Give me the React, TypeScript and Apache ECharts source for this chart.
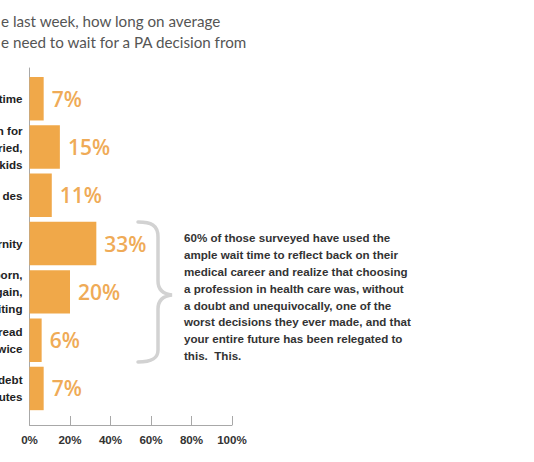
import React, { useEffect, useRef } from "react";
import * as echarts from "echarts";

const categories = ["time", "n for\nried,\nkids", "des", "rnity", "born,\ngain,\niting", "read\nwice", "debt\nutes"];
const values = [7, 15, 11, 33, 20, 6, 7];
const titleLines = ["e last week, how long on average", "e need to wait for a PA decision from"];
const noteLines = [
  "60% of those surveyed have used the",
  "ample wait time to reflect back on their",
  "medical career and realize that choosing",
  "a profession in health care was, without",
  "a doubt and unequivocally, one of the",
  "worst decisions they ever made, and that",
  "your entire future has been relegated to",
  "this.  This.",
];

const BRACE_D =
  "M138,222 C151,222 158,225 158,237 L158,281 C158,290 163,294 172,295 C163,296 158,300 158,309 L158,350 C158,359 151,362 138,362";

let registered = false;

function fitSize(text: string, family: string, weight: string, target: number): number {
  const base = 20;
  const t = new (echarts.graphic as any).Text({ style: { text, font: `${weight} ${base}px ${family}` } });
  const w = t.getBoundingRect().width;
  return w > 0 ? (base * target) / w : 16;
}

export default function App() {
  const ref = useRef<HTMLDivElement>(null);
  useEffect(() => {
    if (!registered) {
      echarts.graphic.registerShape("brace", echarts.graphic.extendPath(BRACE_D, {}) as any);
      registered = true;
    }
    const titleSize = Math.min(17, fitSize(titleLines[1], "Lato", "normal", 246.5));
    const chart = echarts.init(ref.current!, null, { renderer: "svg" });
    const axisColor = "#a8a8a8";
    chart.setOption({
      animation: false,
      backgroundColor: "#ffffff",
      grid: [
        { left: 29.5, width: 202.5, top: 68, height: 357, containLabel: false, outerBoundsMode: "none" },
        { left: 29.5, width: 202.5, top: 74.6, height: 338, containLabel: false, outerBoundsMode: "none" },
      ],
      xAxis: [
        {
          gridIndex: 0,
          type: "value",
          min: 0,
          max: 100,
          interval: 20,
          axisLine: { show: true, onZero: false, lineStyle: { color: axisColor, width: 1 } },
          axisTick: { show: true, inside: true, length: 9, lineStyle: { color: axisColor } },
          splitLine: { show: false },
          axisLabel: {
            formatter: "{value}%",
            fontFamily: "Liberation Sans",
            fontWeight: "bold",
            fontSize: 11.6,
            color: "#333333",
            margin: 8,
          },
        },
        {
          gridIndex: 1,
          type: "value",
          min: 0,
          max: 100,
          show: false,
        },
      ],
      yAxis: [
        {
          gridIndex: 0,
          type: "value",
          min: 0,
          max: 1,
          axisLine: { show: true, onZero: false, lineStyle: { color: axisColor, width: 1 } },
          axisTick: { show: false },
          axisLabel: { show: false },
          splitLine: { show: false },
        },
        {
          gridIndex: 1,
          type: "category",
          inverse: true,
          data: categories,
          axisLine: { show: false },
          axisTick: { show: false },
          axisLabel: {
            fontFamily: "Liberation Sans",
            fontWeight: "bold",
            fontSize: 11.6,
            lineHeight: 17,
            color: "#222222",
            margin: 7,
            align: "right",
          },
        },
      ],
      series: [
        {
          type: "bar",
          xAxisIndex: 1,
          yAxisIndex: 1,
          data: values,
          barCategoryGap: "10%",
          itemStyle: { color: "#f0a849" },
          label: {
            show: true,
            position: "right",
            distance: 8,
            formatter: "{c}%",
            fontFamily: "Open Sans",
            fontWeight: 600,
            fontSize: 21,
            color: "#efab57",
          },
        },
      ],
      graphic: [
        {
          type: "text",
          x: 1,
          y: 10,
          style: {
            text: titleLines.join("\n"),
            font: `${titleSize}px Lato`,
            lineHeight: 21,
            fill: "#555555",
            verticalAlign: "top",
          },
        },
        {
          type: "text",
          x: 184,
          y: 229,
          style: {
            text: noteLines.join("\n"),
            font: "bold 11.6px 'Liberation Sans'",
            lineHeight: 16.9,
            fill: "#333333",
            verticalAlign: "top",
          },
        },
        {
          type: "brace",
          x: 0,
          y: 0,
          style: { stroke: "#d2d2d2", lineWidth: 3.5, fill: null, lineCap: "round" },
        },
      ],
    });
    return () => chart.dispose();
  }, []);
  return <div ref={ref} style={{ position: "fixed", left: 0, top: 0, width: 534, height: 462 }} />;
}
